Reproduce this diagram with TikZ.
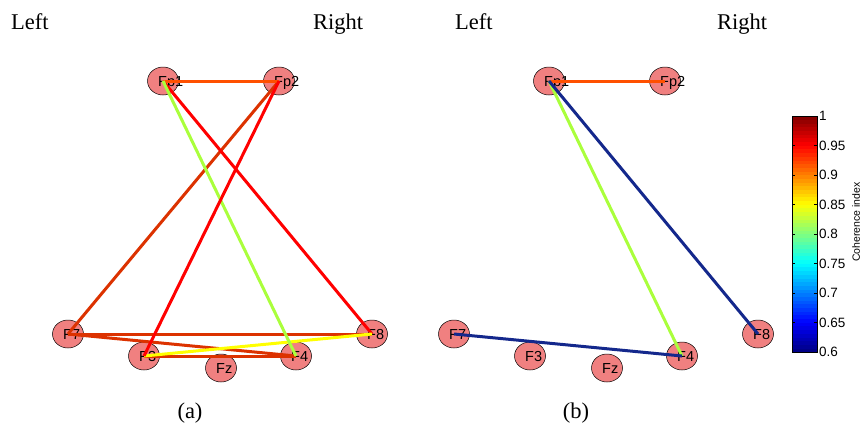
\documentclass[tikz,border=0pt]{standalone}
\usepackage{fontspec}
\setmainfont{Liberation Serif}
\newfontfamily\elecfont{Liberation Sans}
\usetikzlibrary{arrows.meta,positioning,calc,shapes.geometric}
\definecolor{elecfill}{RGB}{240,128,128}
\definecolor{cohOrange}{RGB}{255,80,0}
\definecolor{cohDark}{RGB}{220,50,0}
\definecolor{cohRed}{RGB}{255,0,0}
\definecolor{cohYellow}{RGB}{255,255,0}
\definecolor{cohGreen}{RGB}{170,255,60}
\definecolor{cohBlue}{RGB}{20,40,140}
\tikzset{
  elec/.style={ellipse, draw=black, line width=0.5pt, fill=elecfill, minimum width=31pt, minimum height=28pt, inner sep=0pt},
  eleclbl/.style={anchor=base west, inner sep=0pt, font=\elecfont\fontsize{14.5}{14.5}\selectfont},
  link/.style={line width=3pt},
  sidelbl/.style={anchor=base west, inner sep=0pt, font=\fontsize{22.5}{22.5}\selectfont},
  cbtick/.style={anchor=west, inner sep=0pt, font=\elecfont\fontsize{13.5}{13.5}\selectfont}
}
\begin{document}
\begin{tikzpicture}[x=1pt, y=-1pt, >=Stealth]
\useasboundingbox (0,0) rectangle (862,429);
% headings and captions
\node[sidelbl] (lefta) at (11,29) {Left};
\node[sidelbl] (righta) at (313,29) {Right};
\node[sidelbl] (leftb) at (455,29) {Left};
\node[sidelbl] (rightb) at (717,29) {Right};
\node[sidelbl, anchor=base] (capa) at (190,418) {(a)};
\node[sidelbl, anchor=base] (capb) at (576,418) {(b)};
% electrodes of both panels
\foreach \p/\dx in {a/0, b/386}{
  \foreach \n/\x/\y in {Fp1/163/81, Fp2/279/81, F7/68/334, F8/372/334,
                        F3/144/356, F4/296/356, Fz/221/368}{
    \node[elec] (\n\p) at (\x+\dx,\y) {};
    \node[eleclbl] (\n\p-t) at ([xshift=-5pt, yshift=-5pt]\n\p.center) {\n};
  }
}
% coherence links, panel (a)
\foreach \s/\t/\c in {Fp2a/F7a/cohDark, F7a/F8a/cohDark, F7a/F4a/cohDark,
                      F3a/F4a/cohDark, Fp1a/F8a/cohRed, Fp1a/Fp2a/cohOrange,
                      F3a/F8a/cohYellow, Fp1a/F4a/cohGreen, Fp2a/F3a/cohRed}{
  \draw[link, \c] (\s.center) -- (\t.center);
}
% coherence links, panel (b)
\foreach \s/\t/\c in {Fp1b/Fp2b/cohOrange, Fp1b/F4b/cohGreen,
                      Fp1b/F8b/cohBlue, F7b/F4b/cohBlue}{
  \draw[link, \c] (\s.center) -- (\t.center);
}
% colour bar (jet)
\def\cbh{3.6875}
\foreach \i in {0,...,63}{
  \pgfmathsetmacro\tt{(\i+0.5)/64}
  \pgfmathsetmacro\rr{max(0,min(1,1.5-abs(4*\tt-3)))}
  \pgfmathsetmacro\gg{max(0,min(1,1.5-abs(4*\tt-2)))}
  \pgfmathsetmacro\bb{max(0,min(1,1.5-abs(4*\tt-1)))}
  \definecolor{jetc}{rgb}{\rr,\gg,\bb}
  \fill[jetc] (792,{352-\i*\cbh+0.3}) rectangle (817,{352-(\i+1)*\cbh});
}
\draw[line width=0.6pt] (792,116) rectangle (817,352);
\foreach \v [count=\k from 0] in {0.6,0.65,0.7,0.75,0.8,0.85,0.9,0.95,1}{
  \draw[line width=0.5pt] (792,{352-\k*29.5}) -- (795,{352-\k*29.5});
  \draw[line width=0.5pt] (817,{352-\k*29.5}) -- (814,{352-\k*29.5});
  \node[cbtick] (tick\k) at (819,{352-\k*29.5}) {\v};
}
\node[font=\elecfont\fontsize{10.5}{10.5}\selectfont, rotate=90, inner sep=0pt] (cbname) at (856,222) {Coherence index};
\end{tikzpicture}
\end{document}
